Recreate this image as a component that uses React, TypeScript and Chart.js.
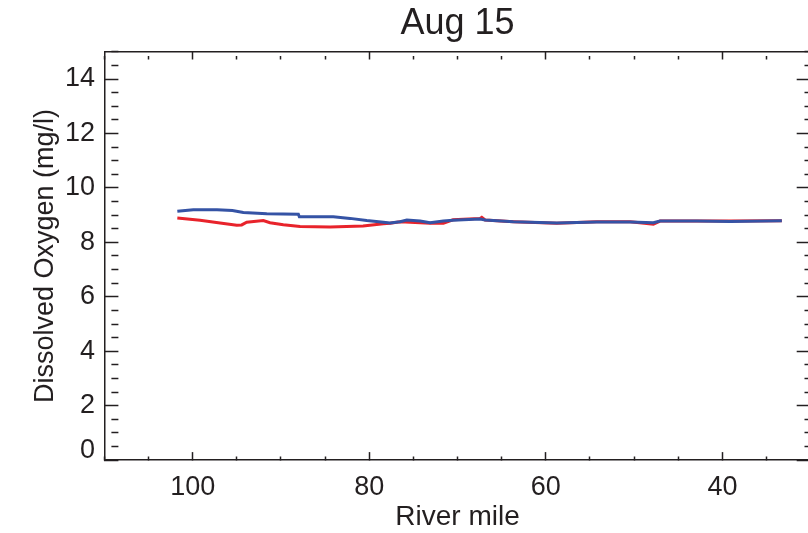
import React, { useEffect, useRef } from "react";
import { Chart, registerables } from "chart.js";

Chart.register(...registerables);

// River mile positions and dissolved oxygen (mg/l) — red series
const riverMileRed = [101.74, 99.17, 96.9, 95.01, 94.45, 93.88, 92.0, 91.24, 89.73, 87.84, 84.44, 80.7, 78.4, 77.64, 76.51, 74.24, 73.11, 71.61, 70.51, 69.34, 67.45, 67.26, 66.88, 63.68, 58.76, 54.23, 50.46, 47.82, 47.06, 42.9, 39.13, 33.27];
const oxygenRed = [8.89, 8.81, 8.71, 8.63, 8.64, 8.74, 8.8, 8.72, 8.65, 8.58, 8.56, 8.6, 8.68, 8.7, 8.76, 8.72, 8.7, 8.7, 8.83, 8.85, 8.88, 8.92, 8.82, 8.76, 8.7, 8.76, 8.76, 8.67, 8.78, 8.78, 8.78, 8.79];

// blue series
const riverMileBlue = [101.74, 99.93, 97.24, 95.5, 94.26, 91.61, 88.03, 87.92, 84.07, 82.18, 80.29, 78.4, 77.64, 76.51, 75.75, 74.24, 73.11, 71.61, 70.5, 69.34, 67.45, 66.88, 63.68, 58.76, 54.23, 50.46, 47.82, 47.06, 42.9, 39.13, 33.27];
const oxygenBlue = [9.14, 9.2, 9.2, 9.17, 9.1, 9.05, 9.03, 8.94, 8.94, 8.88, 8.8, 8.74, 8.71, 8.76, 8.82, 8.78, 8.72, 8.78, 8.81, 8.83, 8.86, 8.82, 8.76, 8.71, 8.75, 8.75, 8.72, 8.78, 8.78, 8.77, 8.79];

const xTickLabels = [100, 80, 60, 40];
const yTickLabels = [0, 2, 4, 6, 8, 10, 12, 14];

const TITLE = "Aug 15";
const X_TITLE = "River mile";
const Y_TITLE = "Dissolved Oxygen (mg/l)";

const INK = "#231f20";
const FONT = "'Liberation Sans', Arial, sans-serif";

export default function App() {
  const ref = useRef<HTMLCanvasElement | null>(null);

  useEffect(() => {
    const canvas = ref.current;
    if (!canvas) return;

    const red = riverMileRed.map((x, i) => ({ x, y: oxygenRed[i] }));
    const blue = riverMileBlue.map((x, i) => ({ x, y: oxygenBlue[i] }));

    const isMajorX = (v: number) => Math.abs(v % 20) < 1e-6;
    const isMajorY = (v: number) => Math.abs(v % 2) < 1e-6;

    const xGrid = (len: number, minor: number) => ({
      drawOnChartArea: false,
      drawTicks: true,
      tickLength: -len,
      tickColor: INK,
      tickWidth: 1.5,
      tickBorderDash: (ctx: any) => (ctx.tick && isMajorX(ctx.tick.value) ? [] : [minor, 200]),
    });
    const yGrid = (len: number, minor: number) => ({
      drawOnChartArea: false,
      drawTicks: true,
      tickLength: -len,
      tickColor: INK,
      tickWidth: 1.5,
      tickBorderDash: (ctx: any) => (ctx.tick && isMajorY(ctx.tick.value) ? [] : [minor, 200]),
    });
    const border = { display: true, color: INK, width: 1.5 };

    const fixH = (h: number) => (s: any) => {
      s.height = h;
      s.paddingLeft = 0;
      s.paddingRight = 0;
    };
    const fixW = (w: number) => (s: any) => {
      s.width = w;
      s.paddingTop = 0;
      s.paddingBottom = 0;
    };

    const chart = new Chart(canvas, {
      type: "line",
      data: {
        datasets: [
          {
            label: "red",
            data: red,
            borderColor: "#e8232b",
            borderWidth: 3,
            pointRadius: 0,
            tension: 0,
            order: 1,
          },
          {
            label: "blue",
            data: blue,
            borderColor: "#3553a5",
            borderWidth: 3,
            pointRadius: 0,
            tension: 0,
            order: 0,
          },
        ],
      },
      options: {
        animation: false,
        responsive: false,
        devicePixelRatio: 1,
        layout: { autoPadding: false, padding: { left: 0, top: 0, right: 0.3, bottom: 0 } },
        plugins: {
          legend: { display: false },
          tooltip: { enabled: false },
          title: {
            display: true,
            text: TITLE,
            fullSize: false,
            color: INK,
            font: { family: FONT, size: 36, weight: "normal", lineHeight: 1.2 },
            padding: { top: 2.6, bottom: 0 },
          },
        },
        scales: {
          x: {
            type: "linear",
            position: "bottom",
            reverse: true,
            min: 30,
            max: 110,
            border,
            grid: xGrid(8, 4) as any,
            ticks: {
              stepSize: 5,
              autoSkip: false,
              maxRotation: 0,
              minRotation: 0,
              padding: 19,
              color: INK,
              font: { family: FONT, size: 27, lineHeight: 1.2 },
              callback: (v: any) => (xTickLabels.includes(Number(v)) ? String(v) : ""),
            },
            title: {
              display: true,
              text: X_TITLE,
              color: INK,
              font: { family: FONT, size: 28, lineHeight: 1.2 },
              padding: { top: 0, bottom: -0.8 },
            },
            afterFit: fixH(72.9),
          },
          x2: {
            type: "linear",
            position: "top",
            reverse: true,
            min: 30,
            max: 110,
            border,
            grid: xGrid(7.7, 3.5) as any,
            ticks: { stepSize: 5, autoSkip: false, display: false },
            afterFit: fixH(6.0),
          },
          y: {
            type: "linear",
            position: "left",
            min: 0,
            max: 15,
            border,
            grid: yGrid(14, 7) as any,
            ticks: {
              stepSize: 0.5,
              autoSkip: false,
              padding: 23.4,
              color: INK,
              font: { family: FONT, size: 27, lineHeight: 0.674 },
              callback: (v: any) => {
                const n = Number(v);
                if (n === 0) return ["0", ""];
                return yTickLabels.includes(n) ? String(n) : "";
              },
            },
            title: {
              display: true,
              text: Y_TITLE,
              color: INK,
              font: { family: FONT, size: 27, lineHeight: 1.2 },
              padding: { top: 29.4, bottom: 0 },
            },
            afterFit: fixW(104.4),
          },
          y2: {
            type: "linear",
            position: "right",
            min: 0,
            max: 15,
            border,
            grid: yGrid(14, 7) as any,
            ticks: { stepSize: 0.5, autoSkip: false, display: false },
            afterFit: fixW(0),
          },
        },
      },
    });

    return () => chart.destroy();
  }, []);

  return (
    <div style={{ position: "fixed", left: 0, top: 0, width: 808, height: 533, overflow: "hidden", background: "#fff" }}>
      <canvas ref={ref} width={811} height={533} style={{ display: "block" }} />
    </div>
  );
}
